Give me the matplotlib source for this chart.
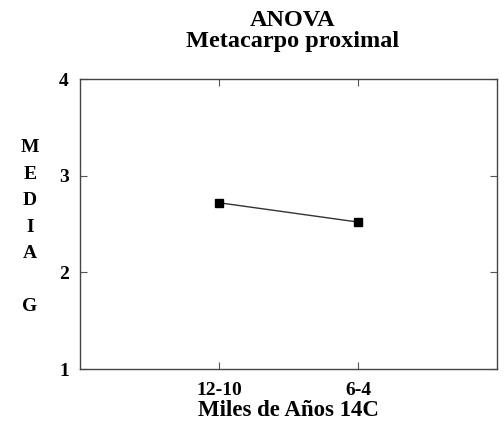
import matplotlib
matplotlib.use("Agg")
import matplotlib.pyplot as plt

periods = ["12-10", "6-4"]
medias = [2.72, 2.52]

plt.rcParams['font.family'] = ['Liberation Serif', 'DejaVu Serif']
plt.rcParams['font.weight'] = 'bold'

fig = plt.figure(figsize=(5.04, 4.23), dpi=100)
ax = fig.add_axes([80 / 504, 1 - 369 / 423, 417 / 504, 290 / 423])

xs = [1, 2]
ax.plot(xs, medias, color='#333333', linewidth=1.0, marker='s',
        markersize=5.5, markerfacecolor='black', markeredgecolor='black')

ax.set_xlim(0, 3)
ax.set_ylim(1, 4)
ax.set_xticks(xs)
ax.set_xticklabels(periods)
ax.set_yticks([1, 2, 3, 4])
ax.tick_params(direction='in', length=5, width=0.8, labelsize=14,
               top=True, right=True, color='#555555', pad=8)
ax.tick_params(axis='x', pad=9)
for lbl in ax.get_xticklabels() + ax.get_yticklabels():
    lbl.set_fontweight('bold')
for s in ax.spines.values():
    s.set_linewidth(1.0)
    s.set_color('#444444')

# title block above the axes
fig.text(293 / 504, 1 - 31 / 423, "ANOVA\nMetacarpo proximal", fontsize=17.5,
         fontweight='bold', ha='center', va='center', linespacing=0.95)
ax.set_xlabel("Miles de Años 14C", fontsize=16.5, fontweight='bold', labelpad=1)
fig.text(30 / 504, 1 - 227 / 423, "M\nE\nD\nI\nA\n\nG", fontsize=14,
         fontweight='bold', ha='center', va='center', linespacing=1.72)

fig.savefig("out.png", dpi=100)
